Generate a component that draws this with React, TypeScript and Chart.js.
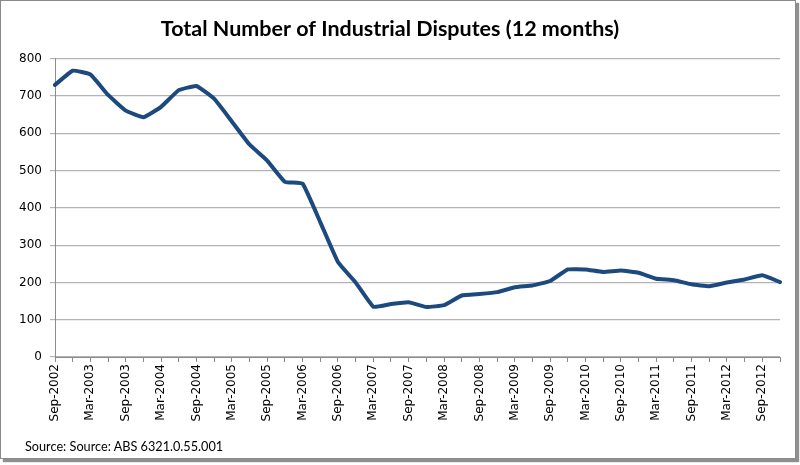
import React, { useEffect, useRef } from "react";
import { Chart, registerables } from "chart.js";

Chart.register(...registerables);

const categories: string[] = [
  "Sep-2002", "Dec-2002",
  "Mar-2003", "Jun-2003", "Sep-2003", "Dec-2003",
  "Mar-2004", "Jun-2004", "Sep-2004", "Dec-2004",
  "Mar-2005", "Jun-2005", "Sep-2005", "Dec-2005",
  "Mar-2006", "Jun-2006", "Sep-2006", "Dec-2006",
  "Mar-2007", "Jun-2007", "Sep-2007", "Dec-2007",
  "Mar-2008", "Jun-2008", "Sep-2008", "Dec-2008",
  "Mar-2009", "Jun-2009", "Sep-2009", "Dec-2009",
  "Mar-2010", "Jun-2010", "Sep-2010", "Dec-2010",
  "Mar-2011", "Jun-2011", "Sep-2011", "Dec-2011",
  "Mar-2012", "Jun-2012", "Sep-2012", "Dec-2012",
];

const disputes: number[] = [
  730, 768,
  758, 703, 661, 643,
  671, 716, 727, 693,
  632, 570, 527, 470,
  465, 362, 255, 200,
  135, 142, 147, 134,
  139, 165, 169, 174,
  187, 192, 204, 235,
  235, 228, 232, 226,
  210, 206, 195, 190,
  200, 208, 219, 201,
];

const yTicks: number[] = [0, 100, 200, 300, 400, 500, 600, 700, 800];

const titleText = "Total Number of Industrial Disputes (12 months)";
const sourceText = "Source: Source: ABS 6321.0.55.001";

export default function App() {
  const canvasRef = useRef<HTMLCanvasElement | null>(null);

  useEffect(() => {
    document.body.style.margin = "0";
    const canvas = canvasRef.current;
    if (!canvas) return;
    const chart = new Chart(canvas, {
      type: "line",
      data: {
        labels: categories,
        datasets: [
          {
            label: "Industrial Disputes",
            data: disputes,
            borderColor: "#1c4a7e",
            backgroundColor: "#1c4a7e",
            borderWidth: 4,
            pointRadius: 0,
            tension: 0.1,
            borderJoinStyle: "round",
            borderCapStyle: "round",
            fill: false,
          },
        ],
      },
      options: {
        animation: false,
        responsive: false,
        maintainAspectRatio: false,
        layout: { padding: { top: 10, right: 20, left: 0, bottom: 0 } },
        plugins: {
          legend: { display: false },
          tooltip: { enabled: false },
          title: {
            display: true,
            text: titleText,
            color: "#000000",
            font: { family: "Lato", size: 21.5, weight: "bold", lineHeight: 1.2 },
            padding: { top: 6, bottom: 17 },
          },
        },
        scales: {
          x: {
            type: "category",
            offset: false,
            grid: {
              display: true,
              drawOnChartArea: false,
              drawTicks: true,
              tickLength: 5,
              color: "#8c8c8c",
            },
            border: { display: true, color: "#8c8c8c", width: 1 },
            ticks: {
              autoSkip: false,
              minRotation: 90,
              maxRotation: 90,
              padding: 2,
              color: "#000000",
              font: { family: "DejaVu Sans", size: 12 },
              callback: (_v: any, i: number) => (i % 2 === 0 ? categories[i] : ""),
            },
            afterFit: (scale: any) => {
              scale.height = 108;
            },
          },
          y: {
            min: 0,
            max: 800,
            afterBuildTicks: (scale: any) => {
              scale.ticks = yTicks.map((v) => ({ value: v }));
            },
            grid: {
              color: "#b4b4b4",
              lineWidth: 1.2,
              tickLength: 5,
              drawTicks: true,
            },
            border: { display: true, color: "#8c8c8c", width: 1 },
            ticks: {
              padding: 8,
              color: "#000000",
              font: { family: "DejaVu Sans", size: 12 },
            },
            afterFit: (scale: any) => {
              scale.width = 55;
            },
          },
        },
      },
    });
    return () => {
      chart.destroy();
    };
  }, []);

  return (
    <div style={{ position: "relative", width: 800, height: 465, background: "#ffffff" }}>
      <div
        style={{
          position: "absolute",
          left: 0,
          top: 0,
          width: 794,
          height: 457,
          border: "1px solid #8a8a8a",
          boxShadow: "3px 3px 1px #8f8f8f",
          background: "#ffffff",
        }}
      />
      <canvas
        ref={canvasRef}
        width={800}
        height={465}
        style={{ position: "absolute", left: 0, top: 0, width: 800, height: 465 }}
      />
      <div
        style={{
          position: "absolute",
          left: 25,
          top: 438,
          fontFamily: "Lato",
          fontSize: 12.7,
          color: "#000000",
          whiteSpace: "nowrap",
        }}
      >
        {sourceText}
      </div>
    </div>
  );
}
